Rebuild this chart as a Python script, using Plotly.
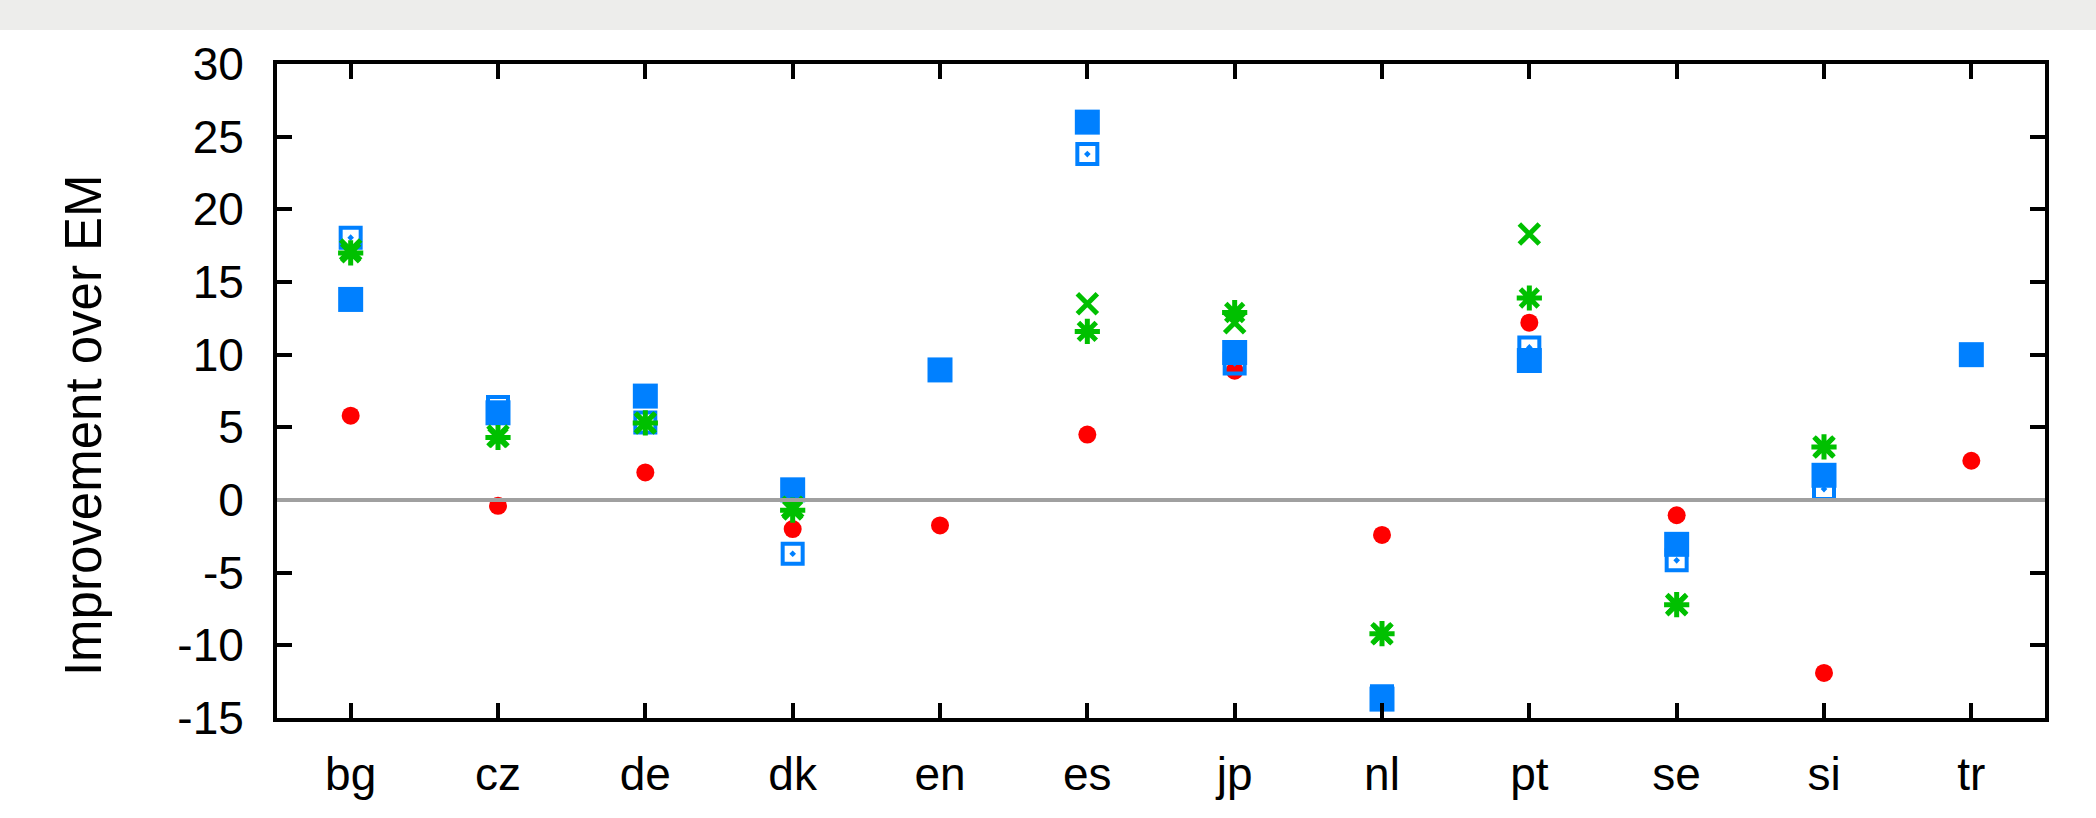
import plotly.graph_objects as go

categories = ["bg", "cz", "de", "dk", "en", "es", "jp", "nl", "pt", "se", "si", "tr"]

red_circle = [5.8, -0.4, 1.9, -2.0, -1.75, 4.5, 8.9, -2.4, 12.2, -1.05, -11.9, 2.7]
blue_filled = [13.8, 6.0, 7.15, 0.7, 8.95, 26.0, 10.15, -13.7, 9.6, -3.05, 1.7, 10.0]
blue_open = [18.05, 6.4, 5.33, -3.7, None, 23.8, 9.4, -13.5, 10.5, -4.15, 0.75, None]
green_x = [17.2, 4.4, 5.3, -0.5, None, 13.5, 12.2, -9.2, 18.3, -7.2, 3.65, None]
green_star = [17.0, 4.3, 5.3, -0.7, None, 11.6, 12.9, -9.2, 13.9, -7.2, 3.65, None]

y_ticks = [30, 25, 20, 15, 10, 5, 0, -5, -10, -15]
y_title = "Improvement over EM"

RED = "#FF0000"
GREEN = "#00C000"
BLUE = "#0080FF"

xs = list(range(len(categories)))

fig = go.Figure()
fig.add_trace(go.Scatter(x=xs, y=red_circle, mode="markers",
                         marker=dict(symbol="circle", size=18, color=RED, line=dict(width=0))))
fig.add_trace(go.Scatter(x=xs, y=blue_open, mode="markers",
                         marker=dict(symbol="square-open-dot", size=20, color=BLUE,
                                     line=dict(width=4, color=BLUE))))
fig.add_trace(go.Scatter(x=xs, y=blue_filled, mode="markers",
                         marker=dict(symbol="square", size=25, color=BLUE, line=dict(width=0))))
fig.add_trace(go.Scatter(x=xs, y=green_x, mode="markers",
                         marker=dict(symbol="x-thin-open", size=20, color=GREEN,
                                     line=dict(width=5, color=GREEN))))
fig.add_trace(go.Scatter(x=xs, y=green_star, mode="markers",
                         marker=dict(symbol="asterisk-open", size=21, color=GREEN,
                                     line=dict(width=5, color=GREEN))))

FONT = "Liberation Sans, Arial, sans-serif"

fig.update_layout(
    width=2096, height=818,
    margin=dict(l=277, r=51, t=64, b=100),
    paper_bgcolor="white", plot_bgcolor="white",
    showlegend=False,
    font=dict(family=FONT, size=46, color="black"),
    xaxis=dict(
        range=[-0.5, 11.5], tickmode="array", tickvals=xs, ticktext=categories,
        showgrid=False, zeroline=False,
        showline=True, linewidth=4, linecolor="black", mirror="ticks",
        ticks="inside", ticklen=15, tickwidth=4, tickcolor="black",
        tickfont=dict(family=FONT, size=46, color="black"),
        ticklabelstandoff=13,
    ),
    yaxis=dict(
        range=[-15, 30], tickmode="array", tickvals=y_ticks,
        ticktext=[str(v) for v in y_ticks],
        showgrid=False, zeroline=False,
        showline=True, linewidth=4, linecolor="black", mirror="ticks",
        ticks="inside", ticklen=15, tickwidth=4, tickcolor="black",
        tickfont=dict(family=FONT, size=46, color="black"),
        ticklabelstandoff=20,
    ),
    annotations=[
        dict(text=y_title, xref="paper", yref="paper", x=-0.1097, y=0.448,
             xanchor="center", yanchor="middle", textangle=-90, showarrow=False,
             font=dict(family=FONT, size=51, color="black")),
    ],
    shapes=[
        dict(type="line", xref="paper", yref="y", x0=0, x1=1, y0=0, y1=0,
             line=dict(color="#A0A0A0", width=4), layer="above"),
        dict(type="rect", xref="paper", yref="paper",
             x0=-277 / 1768, x1=1 + 51 / 1768,
             y0=1 + 34 / 654, y1=1 + 64 / 654,
             fillcolor="#EDEDEB", line=dict(width=0), layer="below"),
    ],
)

fig.write_html("out.html", config={"displayModeBar": False},
               post_script="document.body.style.margin='0';document.body.style.padding='0';")
